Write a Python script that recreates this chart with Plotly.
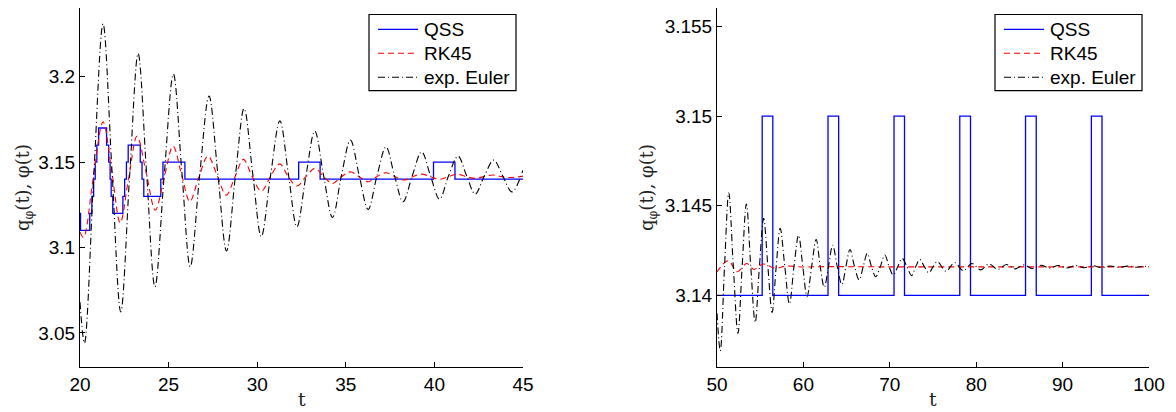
import plotly.graph_objects as go

# ---------------- data ----------------
# Left panel (t = 20..45)
qss_L_t = [20.0, 20.03, 20.55, 20.67, 20.77, 20.86, 20.95, 21.05, 21.5, 21.62, 21.7, 21.76, 21.85,
           22.42, 22.52, 22.62, 22.72, 23.4, 23.5, 23.6, 24.56, 24.68, 25.92, 32.34, 33.55,
           39.95, 41.16, 45.0]
qss_L_v = [3.12, 3.11, 3.12, 3.13, 3.14, 3.15, 3.16, 3.17, 3.16, 3.15, 3.14, 3.13, 3.12,
           3.13, 3.14, 3.15, 3.16, 3.15, 3.14, 3.13, 3.14, 3.15, 3.14, 3.15, 3.14,
           3.15, 3.14, 3.14]

rk_L_t = [20.0, 20.2, 20.75, 21.3, 21.8, 22.27, 22.75, 23.22, 23.75, 24.25, 24.75, 25.25, 25.75,
          26.2, 26.7, 27.22, 27.75, 28.25, 28.75, 29.22, 29.72, 30.23, 30.75, 31.27, 31.75,
          32.24, 32.75, 33.25, 33.75, 34.25, 34.75, 35.26, 35.75, 36.26, 36.75, 37.27, 37.78,
          38.28, 38.78, 39.28, 39.78, 40.29, 40.8, 41.3, 41.8, 42.3, 42.8, 43.3, 43.8, 44.3, 45.0]
rk_L_v = [3.109, 3.106, 3.141, 3.1736, 3.144, 3.1145, 3.141, 3.1652, 3.143, 3.1219, 3.141, 3.1594, 3.142,
          3.1269, 3.141, 3.1535, 3.142, 3.1307, 3.1415, 3.1516, 3.1415, 3.133, 3.1415, 3.149, 3.1415,
          3.136, 3.1415, 3.1463, 3.1415, 3.1375, 3.1415, 3.1443, 3.1415, 3.1385, 3.1415, 3.1438, 3.1415,
          3.1395, 3.1415, 3.143, 3.1415, 3.140, 3.1415, 3.143, 3.1415, 3.1405, 3.1415, 3.1425, 3.1415,
          3.141, 3.1418]

eu_L_t = [20.0, 20.25, 20.78, 21.3, 21.8, 22.3, 22.8, 23.28, 23.75, 24.23, 24.75, 25.27, 25.75,
          26.22, 26.75, 27.28, 27.78, 28.27, 28.77, 29.26, 29.75, 30.23, 30.75, 31.28, 31.76,
          32.24, 32.75, 33.25, 33.75, 34.25, 34.75, 35.26, 35.76, 36.26, 36.76, 37.27, 37.75,
          38.23, 38.75, 39.28, 39.78, 40.29, 40.8, 41.33, 41.82, 42.3, 42.82, 43.35, 43.85,
          44.38, 45.0]
eu_L_v = [3.068, 3.044, 3.143, 3.231, 3.146, 3.0623, 3.142, 3.2137, 3.145, 3.077, 3.142, 3.2016, 3.144,
          3.0887, 3.142, 3.1887, 3.143, 3.098, 3.142, 3.1814, 3.143, 3.1063, 3.142, 3.1742, 3.143,
          3.1121, 3.142, 3.1682, 3.142, 3.1176, 3.142, 3.1629, 3.142, 3.1223, 3.142, 3.159, 3.142,
          3.1268, 3.142, 3.156, 3.142, 3.1283, 3.142, 3.1535, 3.142, 3.1313, 3.142, 3.1512, 3.142,
          3.1326, 3.1453]

# Right panel (t = 50..100)
qss_R_t = [50.0, 55.23, 56.46, 62.85, 64.08, 70.49, 71.7, 78.1, 79.34, 85.71, 86.95, 93.33, 94.56, 100.0]
qss_R_v = [3.14, 3.15, 3.14, 3.15, 3.14, 3.15, 3.14, 3.15, 3.14, 3.15, 3.14, 3.15, 3.14, 3.14]

rk_R_t = [50.0, 51.3, 52.35, 53.43, 54.3, 55.36, 56.7, 58.0, 60.0, 62.0, 70.0, 80.0, 90.0, 100.0]
rk_R_v = [3.1413, 3.14193, 3.14132, 3.14178, 3.14145, 3.14175, 3.14151, 3.14163, 3.14158,
          3.1416, 3.14159, 3.14159, 3.14159, 3.14159]

eu_R_t = [50.0, 50.38, 50.87, 51.36, 51.89, 52.42, 52.91, 53.4, 53.91, 54.42, 54.91, 55.4, 55.89,
          56.38, 56.85, 57.31, 57.85, 58.38, 58.91, 59.44, 59.93, 60.42, 60.95, 61.48, 61.95,
          62.42, 62.9, 63.39, 63.92, 64.46, 64.92, 65.39, 65.92, 66.45, 66.92, 67.39, 67.88,
          68.37, 68.9, 69.43, 69.92, 70.4, 70.92, 71.43, 71.98, 72.53, 73.0, 73.47, 74.0,
          74.53, 75.02, 75.51, 76.5, 77.5, 78.5, 79.5, 80.5, 81.5, 82.5, 83.5, 84.5, 85.5,
          86.5, 87.5, 88.5, 89.5, 90.5, 91.5, 92.5, 93.5, 94.5, 95.5, 96.5, 97.5, 98.5, 99.5, 100.0]
eu_R_v = [3.1390, 3.1369, 3.1416, 3.14573, 3.1416, 3.13788, 3.1416, 3.1451, 3.1416, 3.13848, 3.1416,
          3.1443, 3.1416, 3.13905, 3.1416, 3.14374, 3.1416, 3.13952, 3.1416, 3.14336, 3.1416,
          3.13993, 3.1416, 3.14312, 3.1416, 3.14045, 3.1416, 3.1428, 3.1416, 3.1406, 3.1416,
          3.14256, 3.1416, 3.14086, 3.1416, 3.14234, 3.1416, 3.14104, 3.1416, 3.14225, 3.1416,
          3.14113, 3.1416, 3.14206, 3.1416, 3.1411, 3.1416, 3.142, 3.1416, 3.14126, 3.1416,
          3.14188, 3.14135, 3.14183, 3.14138, 3.14178, 3.14142, 3.14175, 3.14145, 3.14172,
          3.14148, 3.1417, 3.1415, 3.14168, 3.14152, 3.14167, 3.14153, 3.14166, 3.14154,
          3.14165, 3.14155, 3.14164, 3.14156, 3.14163, 3.14157, 3.14162, 3.1416]

names = ["QSS", "RK45", "exp. Euler"]
xticks_L = [20, 25, 30, 35, 40, 45]
yticks_L = [3.05, 3.1, 3.15, 3.2]
yticktext_L = ["3.05", "3.1", "3.15", "3.2"]
xticks_R = [50, 60, 70, 80, 90, 100]
yticks_R = [3.14, 3.145, 3.15, 3.155]
yticktext_R = ["3.14", "3.145", "3.15", "3.155"]

# ---------------- figure ----------------
W, H = 1176, 412
FONT = "Liberation Sans"
FS = 19

def px_x(x):
    return x / W

def px_y(y):
    return 1 - y / H

fig = go.Figure()

styles = [dict(color="#0000ff", width=1.3, dash="solid", shape="hv"),
          dict(color="#ff0000", width=1.1, dash="6px,4px", shape="spline"),
          dict(color="#000000", width=1.1, dash="7px,3px,1px,3px", shape="spline")]

left_series = [(qss_L_t, qss_L_v), (rk_L_t, rk_L_v), (eu_L_t, eu_L_v)]
right_series = [(qss_R_t, qss_R_v), (rk_R_t, rk_R_v), (eu_R_t, eu_R_v)]

for (t, v), nm, st in zip(left_series, names, styles):
    fig.add_trace(go.Scatter(x=t, y=v, mode="lines", name=nm, showlegend=False,
                             xaxis="x", yaxis="y",
                             line=dict(color=st["color"], width=st["width"], dash=st["dash"],
                                       shape=st["shape"])))
for (t, v), nm, st in zip(right_series, names, styles):
    fig.add_trace(go.Scatter(x=t, y=v, mode="lines", name=nm, showlegend=False,
                             xaxis="x2", yaxis="y2",
                             line=dict(color=st["color"], width=st["width"], dash=st["dash"],
                                       shape=st["shape"])))

axis_common = dict(showline=True, linecolor="black", linewidth=1, ticks="inside", ticklen=5,
                   tickcolor="black", tickwidth=1, showgrid=False, zeroline=False,
                   automargin=False,
                   tickfont=dict(family=FONT, size=FS, color="black"), mirror=False)

yb, yt = 367, 8
fig.update_layout(
    template="none",
    width=W, height=H, margin=dict(l=0, r=0, t=0, b=0, pad=0, autoexpand=False),
    paper_bgcolor="white", plot_bgcolor="white", showlegend=False,
    xaxis=dict(domain=[px_x(80), px_x(523)], range=[20, 45], tickvals=xticks_L,
               anchor="y", **axis_common),
    yaxis=dict(domain=[px_y(yb), px_y(yt)], range=[3.03, 3.2403], tickvals=yticks_L,
               ticktext=yticktext_L, anchor="x", **axis_common),
    xaxis2=dict(domain=[px_x(717), px_x(1149)], range=[50, 100], tickvals=xticks_R,
                anchor="y2", **axis_common),
    yaxis2=dict(domain=[px_y(yb), px_y(yt)], range=[3.136, 3.15604], tickvals=yticks_R,
                ticktext=yticktext_R, anchor="x2", **axis_common),
)

# legend boxes (drawn as layout shapes + text so the compact MATLAB spacing is kept)
legend_boxes = [(369, 516), (995, 1142)]
row_y = [29.3, 53.3, 77.3]
for (lx0, lx1) in legend_boxes:
    fig.add_shape(type="rect", xref="paper", yref="paper",
                  x0=px_x(lx0), x1=px_x(lx1), y0=px_y(90.7), y1=px_y(14.5),
                  line=dict(color="black", width=1.2), fillcolor="white", layer="above")
    for nm, st, ry in zip(names, styles, row_y):
        fig.add_shape(type="line", xref="paper", yref="paper",
                      x0=px_x(lx0 + 9), x1=px_x(lx0 + 49), y0=px_y(ry), y1=px_y(ry),
                      line=dict(color=st["color"], width=st["width"], dash=st["dash"]),
                      layer="above")
        fig.add_annotation(x=px_x(lx0 + 53), y=px_y(ry + 0.5), xref="paper", yref="paper",
                           text=nm, showarrow=False, xanchor="left", yanchor="middle",
                           font=dict(family=FONT, size=FS, color="black"))

ylabel = "q<sub>φ</sub>(t), φ(t)"
for xc in (24, 648):
    fig.add_annotation(x=px_x(xc), y=px_y(187), xref="paper", yref="paper", text=ylabel,
                       showarrow=False, textangle=-90, xanchor="center", yanchor="middle",
                       font=dict(family="DejaVu Serif", size=18, color="#222222"))
for xc in (301.5, 933):
    fig.add_annotation(x=px_x(xc), y=px_y(399), xref="paper", yref="paper", text="t",
                       showarrow=False, xanchor="center", yanchor="middle",
                       font=dict(family="DejaVu Serif", size=19, color="#222222"))

fig.write_html("out.html")
